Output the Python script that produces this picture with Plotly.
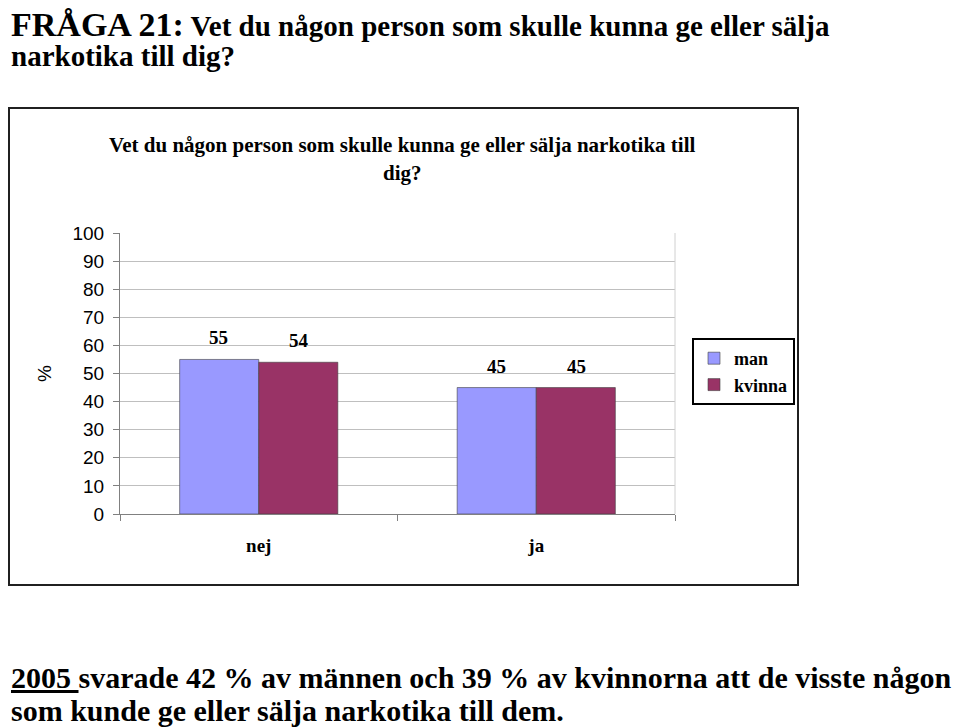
import plotly.graph_objects as go

# Data
categories = ['nej', 'ja']
series_names = ['man', 'kvinna']
man_values = [55, 45]
kvinna_values = [54, 45]
y_ticks = [0, 10, 20, 30, 40, 50, 60, 70, 80, 90, 100]

COLORS = {'man': '#9999FF', 'kvinna': '#993366'}
SERIF = 'Liberation Serif'
SANS = 'Liberation Sans'

OFF = 8  # page body margin
W, H = 960 - OFF, 727 - OFF
L, T = 120 - OFF, 233 - OFF
PW, PH = 555, 281
R, B = W - L - PW, H - T - PH
BAR_SHIFT = 40  # half a bar width in pixels, for value labels


# Convert screenshot pixels to paper coordinates
def px_x(p):
    return (p - OFF - L) / PW


def px_y(p):
    return (T + PH - (p - OFF)) / PH


def serif(size):
    return dict(family=SERIF, size=size, color='black', weight='bold')


fig = go.Figure()
for name, values in zip(series_names, [man_values, kvinna_values]):
    fig.add_trace(go.Bar(
        x=categories,
        y=values,
        name=name,
        marker_color=COLORS[name],
        marker_line=dict(color='#404040', width=0.6),
    ))

# Value labels above the bars
for i, values in enumerate([man_values, kvinna_values]):
    shift = -BAR_SHIFT if i == 0 else BAR_SHIFT
    for cat, v in zip(categories, values):
        fig.add_annotation(x=cat, y=v, xref='x', yref='y', text=str(v),
                           xshift=shift, yshift=9, yanchor='bottom',
                           showarrow=False, font=serif(19))

fig.update_layout(
    width=W,
    height=H,
    margin=dict(l=L, r=R, t=T, b=B),
    paper_bgcolor='white',
    plot_bgcolor='white',
    barmode='group',
    bargap=0.43,
    bargroupgap=0,
    showlegend=True,
    legend=dict(
        x=px_x(692), y=px_y(338), xanchor='left', yanchor='top',
        bordercolor='black', borderwidth=2,
        font=serif(18),
        itemwidth=30,
        tracegroupgap=2,
    ),
)

fig.update_yaxes(
    range=[0, 100],
    tickvals=y_ticks,
    showgrid=True, gridcolor='#BFBFBF', gridwidth=1,
    showline=True, linecolor='#808080', linewidth=1,
    ticks='outside', ticklen=6, tickcolor='#808080',
    tickfont=dict(family=SANS, size=19, color='black'),
    ticklabelstandoff=5,
    title=dict(text='%', font=dict(family=SANS, size=19, color='black'), standoff=15),
    zeroline=False,
)
fig.update_xaxes(
    showline=True, linecolor='#808080', linewidth=1, mirror=False,
    ticks='outside', ticklen=6, tickcolor='#808080', tickson='boundaries',
    tickfont=serif(19),
    ticklabelstandoff=14,
)

# Light right border of the plot area
fig.add_shape(type='line', xref='paper', yref='paper', x0=1, x1=1, y0=0, y1=1,
              line=dict(color='#D0D0D0', width=1))

# Chart box
fig.add_shape(type='rect', xref='paper', yref='paper',
              x0=px_x(9), x1=px_x(798), y0=px_y(585), y1=px_y(108),
              line=dict(color='#202020', width=2), layer='below')

# Inner chart title
fig.add_annotation(text='Vet du någon person som skulle kunna ge eller sälja narkotika till',
                   xref='paper', yref='paper', x=px_x(402), y=px_y(145),
                   xanchor='center', yanchor='middle', showarrow=False,
                   font=serif(21))
fig.add_annotation(text='dig?',
                   xref='paper', yref='paper', x=px_x(402), y=px_y(173),
                   xanchor='center', yanchor='middle', showarrow=False,
                   font=serif(21))

# Page heading
fig.add_annotation(text='<span style="font-size:34px">FRÅGA 21:</span> Vet du någon person som skulle kunna ge eller sälja',
                   xref='paper', yref='paper', x=px_x(9), y=px_y(25),
                   xanchor='left', yanchor='middle', showarrow=False,
                   font=serif(29))
fig.add_annotation(text='narkotika till dig?',
                   xref='paper', yref='paper', x=px_x(9), y=px_y(56),
                   xanchor='left', yanchor='middle', showarrow=False,
                   font=serif(29))

# Footer text
fig.add_annotation(text='<u>2005 </u>svarade 42 % av männen och 39 % av kvinnorna att de visste någon',
                   xref='paper', yref='paper', x=px_x(9), y=px_y(677),
                   xanchor='left', yanchor='middle', showarrow=False,
                   font=serif(30))
fig.add_annotation(text='som kunde ge eller sälja narkotika till dem.',
                   xref='paper', yref='paper', x=px_x(9), y=px_y(710),
                   xanchor='left', yanchor='middle', showarrow=False,
                   font=serif(30))

fig.write_html('out.html')
